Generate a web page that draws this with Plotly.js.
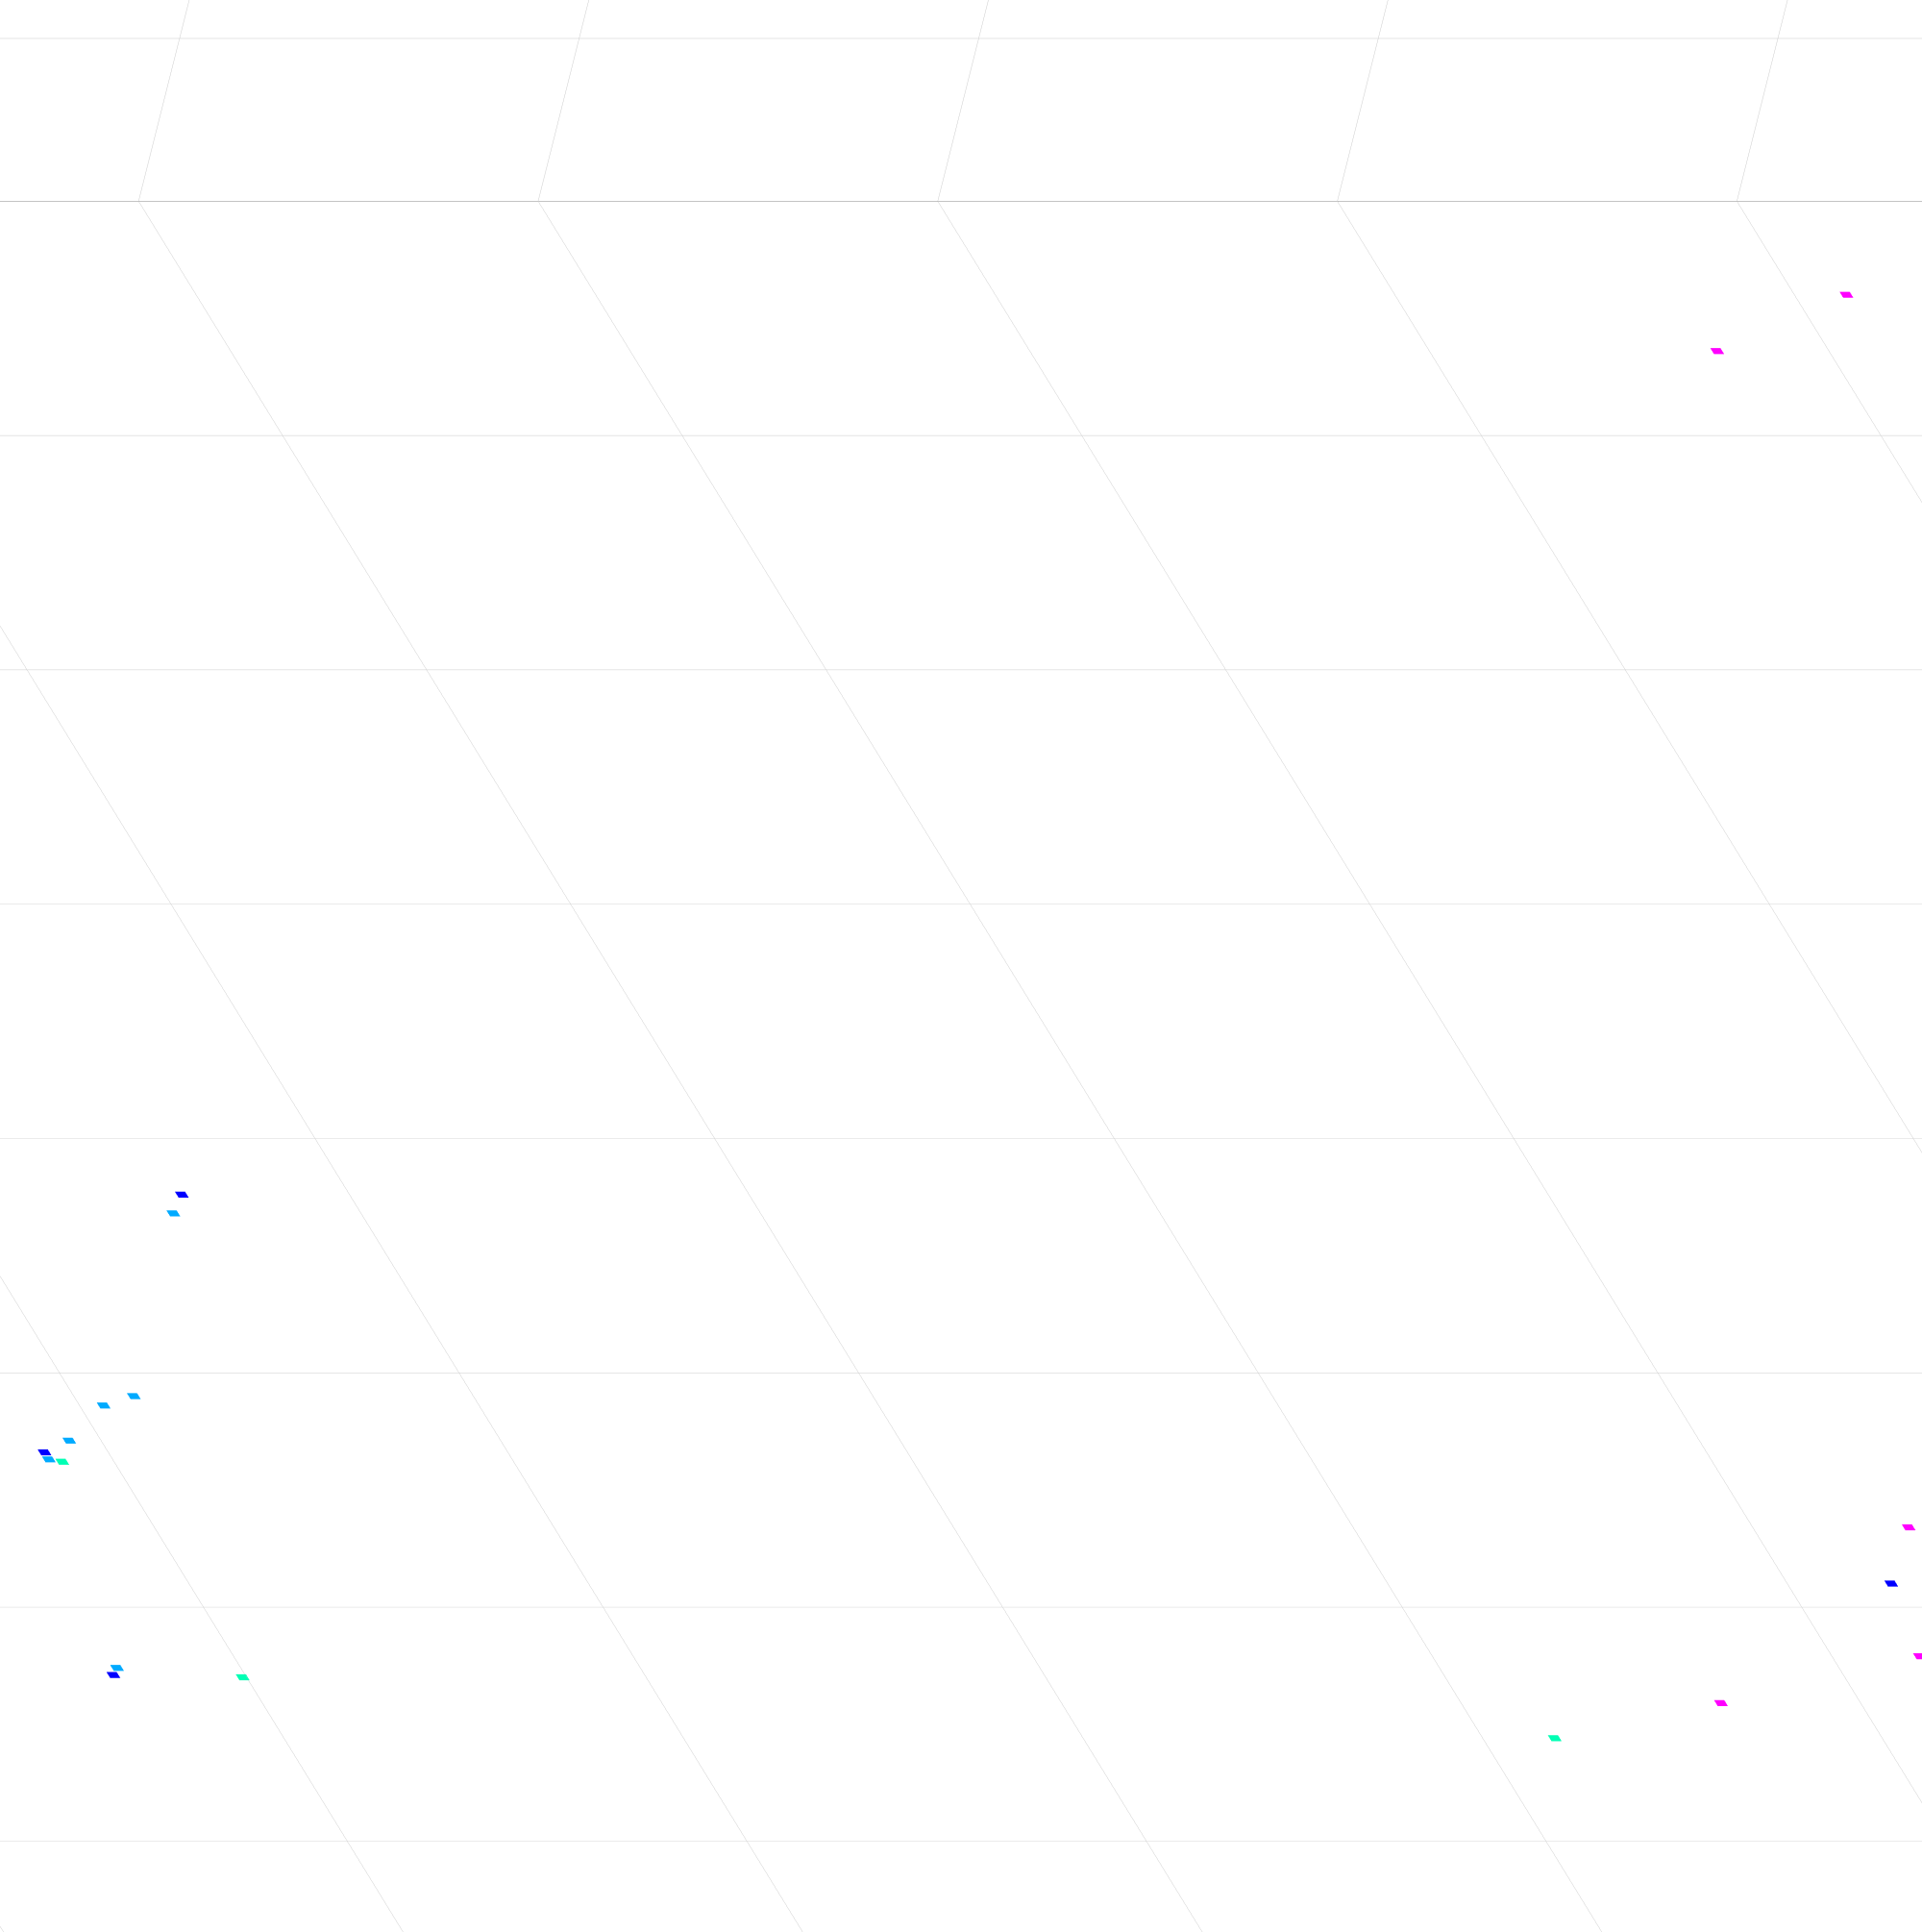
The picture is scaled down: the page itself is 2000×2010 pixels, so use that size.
<!DOCTYPE html>
<html><head><meta charset="utf-8">
<script src="https://cdn.plot.ly/plotly-3.0.1.min.js"></script>
<style>html,body{margin:0;padding:0;background:#fff}</style>
</head><body>
<div id="plot" style="width:2000px;height:2010px"></div>
<script>
// Series (floor positions), one array per colour group
const blueX = [35.8, 28.4, 26.7, 72.6];
const blueY = [57.6, 46.6, 37.1, 41.0];
const blueZ = [50, 50, 50, 50];
const skyX = [35.3, 31.5, 30.6, 29.2, 28.4, 26.9];
const skyY = [56.8, 49.0, 48.6, 47.1, 46.3, 37.4];
const skyZ = [50, 50, 50, 50, 50, 50];
const greenX = [28.7, 29.9, 61.8];
const greenY = [46.2, 37.0, 34.4];
const greenZ = [50, 50, 50];
const pinkX = [91.3, 87.2, 73.9, 72.2, 66.5];
const pinkY = [96.0, 93.6, 43.4, 37.9, 35.9];
const pinkZ = [50, 50, 50, 50, 50];
const groupColors = ['#0000ff', '#00aaff', '#00ffb4', '#ff00ff'];

function tr(x, y, z, c) {
  return {type:'scatter3d', mode:'markers', x:x, y:y, z:z, opacity:0,
    marker:{symbol:'square', size:12, color:c},
    projection:{z:{show:true, opacity:1, scale:1}}};
}
Plotly.newPlot('plot', [
  tr(blueX, blueY, blueZ, groupColors[0]),
  tr(skyX, skyY, skyZ, groupColors[1]),
  tr(greenX, greenY, greenZ, groupColors[2]),
  tr(pinkX, pinkY, pinkZ, groupColors[3])
], {
  width:2000, height:2010, showlegend:false,
  margin:{l:0,r:0,t:0,b:0},
  scene:{
    domain:{x:[0,1],y:[0,1]},
    dragmode:'orbit',
    aspectmode:'manual', aspectratio:{x:4.5,y:4.5,z:1},
    camera:{eye:{x:-0.508,y:-1,z:0.64},up:{x:0,y:0.64,z:1},center:{x:0,y:0,z:0},projection:{type:'orthographic'}},
    xaxis:{range:[0,100],dtick:10,visible:true},
    yaxis:{range:[0,100],dtick:10,visible:true},
    zaxis:{range:[0,100],visible:true}}
},{displayModeBar:false});
</script>
</body></html>
